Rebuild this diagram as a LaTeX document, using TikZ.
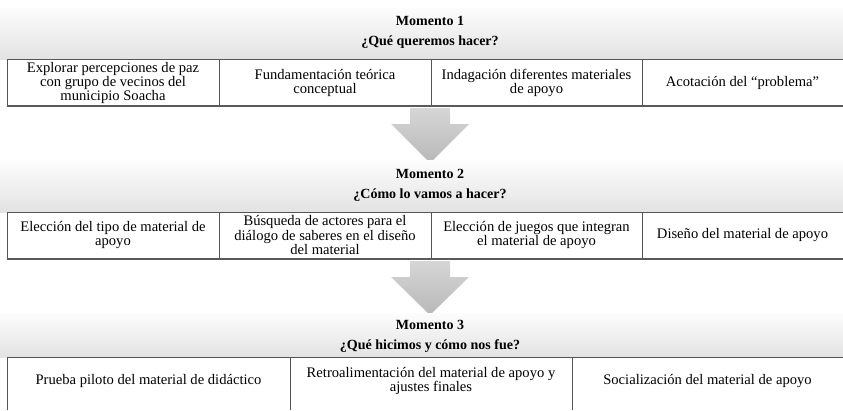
\documentclass[tikz,border=0pt]{standalone}
\usepackage{fontspec}
\setmainfont{Liberation Serif}
\usetikzlibrary{calc}
\definecolor{bordercol}{HTML}{555555}
\definecolor{shadowcol}{HTML}{5A5A5A}
\tikzset{
  x=1pt,y=-1pt,
  band/.style={top color=white!99!black,bottom color=white!89!black,draw=none},
  celltext/.style={align=center,font=\fontsize{14.6}{14.2}\selectfont,inner sep=0pt},
  titletext/.style={align=center,font=\fontsize{14}{20}\selectfont\bfseries,inner sep=0pt},
  cellline/.style={draw=bordercol,line width=0.8pt},
  shadowline/.style={draw=shadowcol,line width=2.8pt},
  bigarrow/.style={top color=white!84!black,bottom color=white!72!black,draw=none}
}
\begin{document}
\begin{tikzpicture}
\useasboundingbox (0,0) rectangle (843,410);
% ---------- Momento 1 ----------
\shade[band] (0,8) rectangle (843,59);
\node[titletext] (t1) at (430,32) {Momento 1\\¿Qué queremos hacer?};
\fill[white] (7,59) rectangle (843,105);
\draw[cellline] (843,59) -- (7,59) -- (7,105);
\draw[cellline] (219,59) -- (219,105);
\draw[cellline] (431,59) -- (431,105);
\draw[cellline] (642,59) -- (642,105);
\draw[shadowline] (7,106) -- (843,106);
\node[celltext] (a1) at (113,83) {Explorar percepciones de paz\\con grupo de vecinos del\\municipio Soacha};
\node[celltext] (a2) at (325,83) {Fundamentación teórica\\conceptual};
\node[celltext] (a3) at (536.5,83) {Indagación diferentes materiales\\de apoyo};
\node[celltext] (a4) at (742.5,83) {Acotación del “problema”};
% ---------- arrow 1 ----------
\shade[bigarrow] (410,108) -- (450,108) -- (450,124) -- (469,124) -- (430,163) -- (391,124) -- (410,124) -- cycle;
% ---------- Momento 2 ----------
\shade[band] (0,160) rectangle (843,212);
\node[titletext] (t2) at (430,185) {Momento 2\\¿Cómo lo vamos a hacer?};
\fill[white] (7,212) rectangle (843,258);
\draw[cellline] (843,212) -- (7,212) -- (7,258);
\draw[cellline] (219,212) -- (219,258);
\draw[cellline] (431,212) -- (431,258);
\draw[cellline] (642,212) -- (642,258);
\draw[shadowline] (7,259) -- (843,259);
\node[celltext] (b1) at (113,235) {Elección del tipo de material de\\apoyo};
\node[celltext] (b2) at (325,235) {Búsqueda de actores para el\\diálogo de saberes en el diseño\\del material};
\node[celltext] (b3) at (536.5,235) {Elección de juegos que integran\\el material de apoyo};
\node[celltext] (b4) at (742.5,235) {Diseño del material de apoyo};
% ---------- arrow 2 ----------
\shade[bigarrow] (410,261) -- (450,261) -- (450,277) -- (469,277) -- (430,315) -- (391,277) -- (410,277) -- cycle;
% ---------- Momento 3 ----------
\shade[band] (0,313) rectangle (843,357);
\node[titletext] (t3) at (430,336) {Momento 3\\¿Qué hicimos y cómo nos fue?};
\fill[white] (7,357) rectangle (843,410);
\draw[cellline] (843,357) -- (7,357) -- (7,410);
\draw[cellline] (290,357) -- (290,410);
\draw[cellline] (572,357) -- (572,410);
\node[celltext] (c1) at (148.5,381) {Prueba piloto del material de didáctico};
\node[celltext] (c2) at (431,381) {Retroalimentación del material de apoyo y\\ajustes finales};
\node[celltext] (c3) at (707.5,381) {Socialización del material de apoyo};
\end{tikzpicture}
\end{document}
